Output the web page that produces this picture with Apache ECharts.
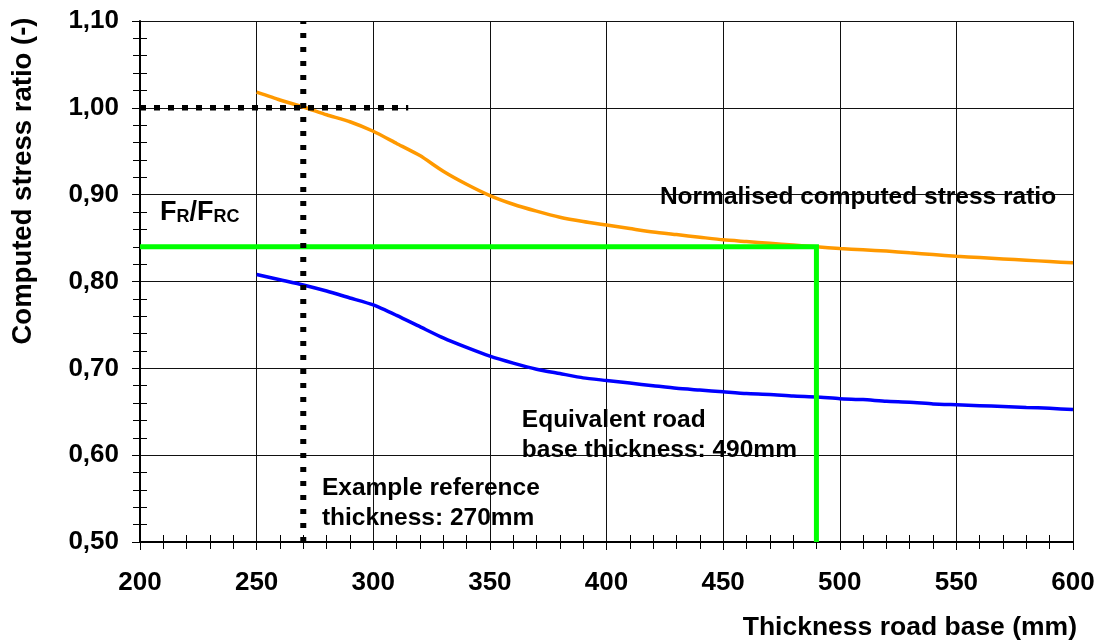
<!DOCTYPE html>
<html>
<head>
<meta charset="utf-8">
<script src="https://cdn.jsdelivr.net/npm/echarts@6/dist/echarts.min.js"></script>
<style>
  html, body { margin: 0; padding: 0; background: #fff; }
  #chart { width: 1098px; height: 644px; }
</style>
</head>
<body>
<div id="chart"></div>
<script>
// Road base thickness (mm) at which each computed ratio was evaluated
const thickness = [250, 260, 270, 280, 290, 300, 310, 320, 330, 340, 350, 360, 370, 380, 390,
  400, 410, 420, 430, 440, 450, 460, 470, 480, 490, 500, 510, 520, 530, 540, 550, 560, 570, 580, 590, 600];

// Normalised computed stress ratio (orange)
const normalisedRatio = [1.018, 1.009, 1.001, 0.992, 0.984, 0.973, 0.959, 0.945, 0.927, 0.912, 0.899,
  0.889, 0.881, 0.874, 0.869, 0.865, 0.861, 0.857, 0.854, 0.851, 0.848, 0.846, 0.844, 0.842, 0.840,
  0.838, 0.8365, 0.835, 0.833, 0.831, 0.829, 0.8275, 0.826, 0.8245, 0.823, 0.8215];

// Computed stress ratio (blue)
const computedRatio = [0.808, 0.802, 0.796, 0.789, 0.781, 0.773, 0.761, 0.748, 0.735, 0.724, 0.714,
  0.706, 0.699, 0.694, 0.689, 0.686, 0.683, 0.680, 0.677, 0.675, 0.673, 0.671, 0.670, 0.668, 0.667,
  0.665, 0.664, 0.662, 0.661, 0.659, 0.658, 0.657, 0.656, 0.655, 0.654, 0.6525];

// Reference / equivalent thickness construction lines
const referenceThickness = 270;
const referenceRatio = 1.00;
const referenceRatioLineEnd = 315;
const frFrcRatio = 0.84;
const equivalentThickness = 490;

// Axis ticks
const xTicks = [200, 250, 300, 350, 400, 450, 500, 550, 600];
const yTicks = [0.50, 0.60, 0.70, 0.80, 0.90, 1.00, 1.10];
const yTickLabels = ['0,50', '0,60', '0,70', '0,80', '0,90', '1,00', '1,10'];

const FONT = "'Liberation Sans', Arial, Helvetica, sans-serif";
const xMin = xTicks[0], xMax = xTicks[xTicks.length - 1];
const yMin = yTicks[0], yMax = yTicks[yTicks.length - 1];

function yLabel(v) {
  for (let i = 0; i < yTicks.length; i++) {
    if (Math.abs(yTicks[i] - v) < 1e-6) return yTickLabels[i];
  }
  return '';
}

const chart = echarts.init(document.getElementById('chart'), null, { renderer: 'canvas' });

const grid = { left: 140, right: 25, top: 21, bottom: 102, containLabel: false, outerBoundsMode: 'none' };

const baseX = { type: 'value', min: xMin, max: xMax, interval: 50 };
const baseY = { type: 'value', min: yMin, max: yMax, interval: 0.1 };

const option = {
  animation: false,
  backgroundColor: '#fff',
  grid: grid,
  xAxis: [
    Object.assign({}, baseX, {
      position: 'bottom',
      axisLine: { show: true, onZero: false, lineStyle: { color: '#000', width: 2 } },
      axisTick: { show: true, inside: false, length: 8, lineStyle: { color: '#000', width: 1 } },
      minorTick: { show: true, splitNumber: 5, length: 7, lineStyle: { color: '#000', width: 1 } },
      axisLabel: { show: true, margin: 28, color: '#000', fontFamily: FONT, fontWeight: 'bold', fontSize: 26 },
      splitLine: { show: true, lineStyle: { color: '#111', width: 1 } }
    }),
    Object.assign({}, baseX, {
      position: 'bottom',
      axisLine: { show: false, onZero: false },
      axisTick: { show: false, inside: true },
      minorTick: { show: true, splitNumber: 5, length: 7, lineStyle: { color: '#000', width: 1 } },
      axisLabel: { show: false },
      splitLine: { show: false }
    })
  ],
  yAxis: [
    Object.assign({}, baseY, {
      position: 'left',
      axisLine: { show: true, onZero: false, lineStyle: { color: '#000', width: 2 } },
      axisTick: { show: true, inside: false, length: 8, lineStyle: { color: '#000', width: 1 } },
      minorTick: { show: true, splitNumber: 5, length: 7, lineStyle: { color: '#000', width: 1 } },
      axisLabel: { show: true, margin: 21, color: '#000', fontFamily: FONT, fontWeight: 'bold', fontSize: 26,
        formatter: yLabel },
      splitLine: { show: true, lineStyle: { color: '#111', width: 1 } }
    }),
    Object.assign({}, baseY, {
      position: 'left',
      axisLine: { show: false, onZero: false },
      axisTick: { show: false, inside: true },
      minorTick: { show: true, splitNumber: 5, length: 7, lineStyle: { color: '#000', width: 1 } },
      axisLabel: { show: false },
      splitLine: { show: false }
    })
  ],
  series: [
    {
      name: 'Normalised computed stress ratio',
      type: 'line',
      data: thickness.map((t, i) => [t, normalisedRatio[i]]),
      showSymbol: false,
      smooth: 0.2,
      lineStyle: { color: '#ff9900', width: 3.5 },
      z: 2
    },
    {
      name: 'Computed stress ratio',
      type: 'line',
      data: thickness.map((t, i) => [t, computedRatio[i]]),
      showSymbol: false,
      smooth: 0.2,
      lineStyle: { color: '#0000ff', width: 3.5 },
      z: 3
    },
    {
      name: 'FR/FRC',
      type: 'line',
      data: [[xMin, frFrcRatio], [equivalentThickness, frFrcRatio], [equivalentThickness, yMin]],
      showSymbol: false,
      lineStyle: { color: '#00ff00', width: 5, join: 'miter', cap: 'butt' },
      z: 4
    },
    {
      name: 'Reference thickness',
      type: 'line',
      data: [[referenceThickness, yMin], [referenceThickness, yMax]],
      showSymbol: false,
      lineStyle: { color: '#000', width: 6, type: [5, 9], cap: 'butt' },
      z: 5
    },
    {
      name: 'Reference ratio',
      type: 'line',
      data: [[xMin, referenceRatio], [referenceRatioLineEnd, referenceRatio]],
      showSymbol: false,
      lineStyle: { color: '#000', width: 5.5, type: [6, 8], cap: 'butt' },
      z: 5
    }
  ]
};

chart.setOption(option);

// Annotation texts anchored to data coordinates
function px(x, y) { return chart.convertToPixel({ xAxisIndex: 0, yAxisIndex: 0 }, [x, y]); }

const textStyle = { fontFamily: FONT, fontWeight: 'bold', fill: '#000' };
const pFr = px(208.6, 0.881);
const pNorm = px(422.9, 0.897);
const pEq = px(363.7, 0.657);
const pEx = px(278, 0.579);

chart.setOption({
  graphic: [
    {
      type: 'text', x: 23, y: 181, rotation: Math.PI / 2,
      style: Object.assign({ text: 'Computed stress ratio (-)', fontSize: 27.5, align: 'center', verticalAlign: 'middle' }, textStyle)
    },
    {
      type: 'text', x: 1077, y: 628,
      style: Object.assign({ text: 'Thickness road base (mm)', fontSize: 26.5, align: 'right', verticalAlign: 'middle' }, textStyle)
    },
    {
      type: 'text', x: pFr[0], y: pFr[1],
      style: {
        text: '{m|F}{s|R}{m|/F}{s|RC}',
        verticalAlign: 'middle', align: 'left',
        rich: {
          m: { fontFamily: FONT, fontWeight: 'bold', fontSize: 27, fill: '#000', lineHeight: 30, verticalAlign: 'bottom' },
          s: { fontFamily: FONT, fontWeight: 'bold', fontSize: 18, fill: '#000', lineHeight: 22, verticalAlign: 'bottom' }
        }
      }
    },
    {
      type: 'text', x: pNorm[0], y: pNorm[1],
      style: Object.assign({ text: 'Normalised computed stress ratio', fontSize: 24.5, align: 'left', verticalAlign: 'middle' }, textStyle)
    },
    {
      type: 'text', x: pEq[0], y: pEq[1],
      style: Object.assign({ text: 'Equivalent road\nbase thickness: 490mm', fontSize: 24.5, lineHeight: 30, align: 'left', verticalAlign: 'top' }, textStyle)
    },
    {
      type: 'text', x: pEx[0], y: pEx[1],
      style: Object.assign({ text: 'Example reference\nthickness: 270mm', fontSize: 24.5, lineHeight: 30, align: 'left', verticalAlign: 'top' }, textStyle)
    }
  ]
});
</script>
</body>
</html>
